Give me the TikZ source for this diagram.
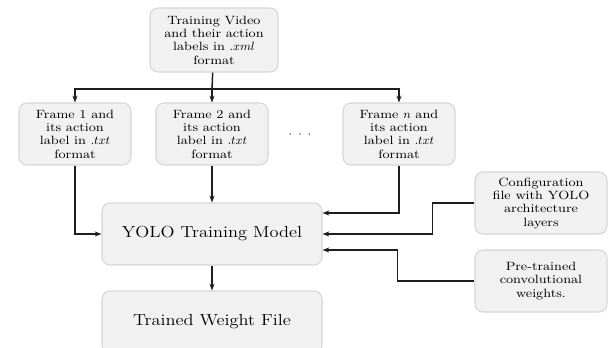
\documentclass[tikz,border=0pt]{standalone}
\usepackage{fontspec}
\setmainfont{Latin Modern Roman}[FakeStretch=1.15]
\usepackage{tikz}
\usetikzlibrary{arrows.meta}
\definecolor{boxfill}{HTML}{F1F1F1}
\definecolor{boxline}{HTML}{D6D6D6}
\definecolor{wire}{HTML}{1E1E1E}
\newcommand{\tightsmall}{\small\setlength{\baselineskip}{10pt}}

\begin{document}
\begin{tikzpicture}[
  x=0.75pt, y=-0.75pt,
  font=\small,
  box/.style={draw=boxline, fill=boxfill, rounded corners=6pt, align=center,
              inner sep=2pt, line width=0.8pt},
  smallbox/.style={box, minimum width=84pt, minimum height=46.5pt, font=\tightsmall},
  bigbox/.style={box, minimum width=165pt, minimum height=46.5pt, font=\large},
  ln/.style={draw=wire, line width=1.1pt},
  ar/.style={-{Stealth[length=1.8mm]}, draw=wire, line width=1.1pt}
]
\useasboundingbox (0,0) rectangle (611,347);
% input video and its frames
\node[smallbox, minimum width=96pt, minimum height=48pt] (video) at (214,40)
  {Training Video\\ and their action\\ labels in $.xml$\\ format};
\node[smallbox] (f1) at (75,134) {Frame 1 and\\ its action\\ label in $.txt$\\ format};
\node[smallbox] (f2) at (212,134) {Frame 2 and\\ its action\\ label in $.txt$\\ format};
\node[smallbox] (fn) at (399,134) {Frame $n$ and\\ its action\\ label in $.txt$\\ format};
\node (dots) at (300,135) {$\cdot\;\cdot\;\cdot$};
% training
\node[bigbox] (yolo) at (212,234) {YOLO Training Model};
\node[bigbox] (wts) at (212,322) {Trained Weight File};
\node[smallbox, minimum width=99pt] (cfg) at (541,203)
  {Configuration\\ file with YOLO\\ architecture\\ layers};
\node[smallbox, minimum width=99pt] (pre) at (541,281)
  {Pre-trained\\ convolutional\\ weights.};
\coordinate (bus) at (212,89);
\draw[ln] (video) -- (bus);
\draw[ar] (bus) -| (f1);
\draw[ar] (bus) -- (f2);
\draw[ar] (bus) -| (fn);
\draw[ar] (f1) |- (yolo);
\draw[ar] (f2) -- (yolo);
\draw[ar] (fn) |- ([yshift=15.75pt]yolo.east);
\draw[ar] (cfg.west) -- ++(-42,0) |- (yolo.east);
\draw[ar] (pre.west) -- ++(-77,0) |- ([yshift=-12pt]yolo.east);
\draw[ar] (yolo) -- (wts);
\end{tikzpicture}
\end{document}
